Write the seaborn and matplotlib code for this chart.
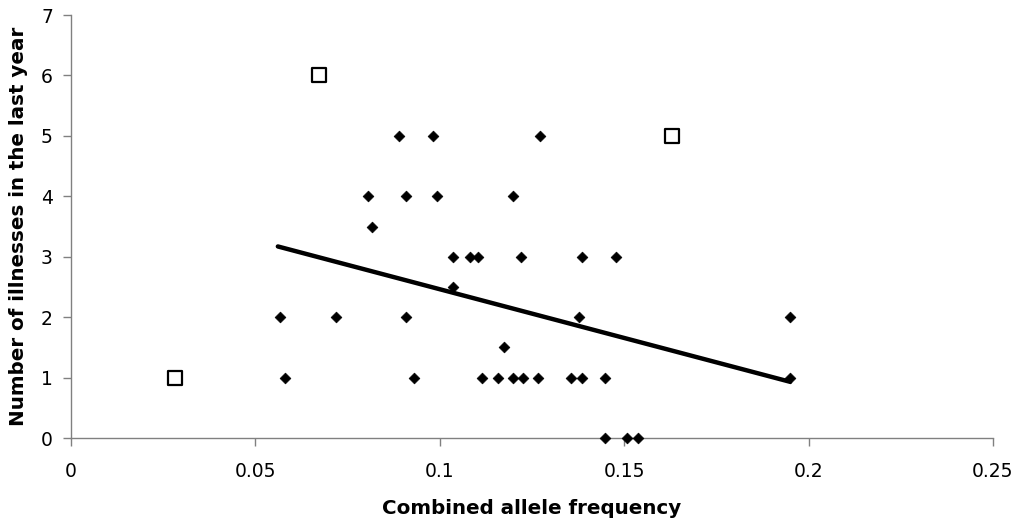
import numpy as np
import pandas as pd
import matplotlib
matplotlib.use("Agg")
import matplotlib.pyplot as plt
import seaborn as sns

# Main group: combined allele frequency vs illnesses in the last year
freq = [0.0889, 0.0982, 0.1272,
        0.0805, 0.0908, 0.0992, 0.1198,
        0.0816,
        0.1036, 0.1082, 0.1105, 0.1220, 0.1386, 0.1478,
        0.1036,
        0.0567, 0.0718, 0.0908, 0.1378, 0.1950,
        0.1174,
        0.0580, 0.0930, 0.1114, 0.1159, 0.1198, 0.1225, 0.1266, 0.1355, 0.1387, 0.1449, 0.1950,
        0.1449, 0.1507, 0.1537]
illnesses = [5, 5, 5,
             4, 4, 4, 4,
             3.5,
             3, 3, 3, 3, 3, 3,
             2.5,
             2, 2, 2, 2, 2,
             1.5,
             1, 1, 1, 1, 1, 1, 1, 1, 1, 1, 1,
             0, 0, 0]

# Excluded outliers
out_freq = [0.0282, 0.0672, 0.1630]
out_illnesses = [1, 6, 5]

# Linear trend line over the main group
trend_x = [0.0561, 0.1950]
trend_y = [3.17, 0.93]

x_ticks = [0, 0.05, 0.1, 0.15, 0.2, 0.25]
x_tick_labels = ["0", "0.05", "0.1", "0.15", "0.2", "0.25"]
y_ticks = [0, 1, 2, 3, 4, 5, 6, 7]

sns.set_theme(style="white")
plt.rcParams["font.family"] = ["DejaVu Sans"]
plt.rcParams["text.color"] = "black"
plt.rcParams["axes.labelcolor"] = "black"

fig = plt.figure(figsize=(10.18, 5.25), dpi=100)
ax = fig.add_axes([0.0697, 0.1657, 0.9057, 0.8057])

main = pd.DataFrame({"freq": freq, "ill": illnesses})
outl = pd.DataFrame({"freq": out_freq, "ill": out_illnesses})
trend = pd.DataFrame({"x": trend_x, "y": trend_y})

sns.lineplot(data=trend, x="x", y="y", ax=ax, color="black", linewidth=3.2,
             zorder=2)
sns.scatterplot(data=main, x="freq", y="ill", ax=ax, marker="D", s=30,
                color="black", edgecolor="black", linewidth=0.5, zorder=3,
                clip_on=False)
sns.scatterplot(data=outl, x="freq", y="ill", ax=ax, marker="s", s=95,
                facecolor="white", edgecolor="black", linewidth=1.6, zorder=3)

ax.set_xlim(0, 0.25)
ax.set_ylim(0, 7)
ax.set_xticks(x_ticks)
ax.set_xticklabels(x_tick_labels)
ax.set_yticks(y_ticks)

for side in ["top", "right"]:
    ax.spines[side].set_visible(False)
for side in ["left", "bottom"]:
    ax.spines[side].set_color("#808080")
    ax.spines[side].set_linewidth(1.0)
    ax.spines[side].set_zorder(1)

ax.tick_params(axis="both", which="major", direction="out", length=6,
               width=1.0, color="#808080", labelsize=13.5, labelcolor="black",
               bottom=True, left=True)
ax.tick_params(axis="x", pad=11)
ax.tick_params(axis="y", pad=7)

ax.set_xlabel("Combined allele frequency", fontsize=14.3, fontweight="bold",
              labelpad=13, color="black")
ax.set_ylabel("Number of illnesses in the last year", fontsize=14.3,
              fontweight="bold", labelpad=9, color="black")

fig.savefig("out.png", dpi=100, facecolor="white")
